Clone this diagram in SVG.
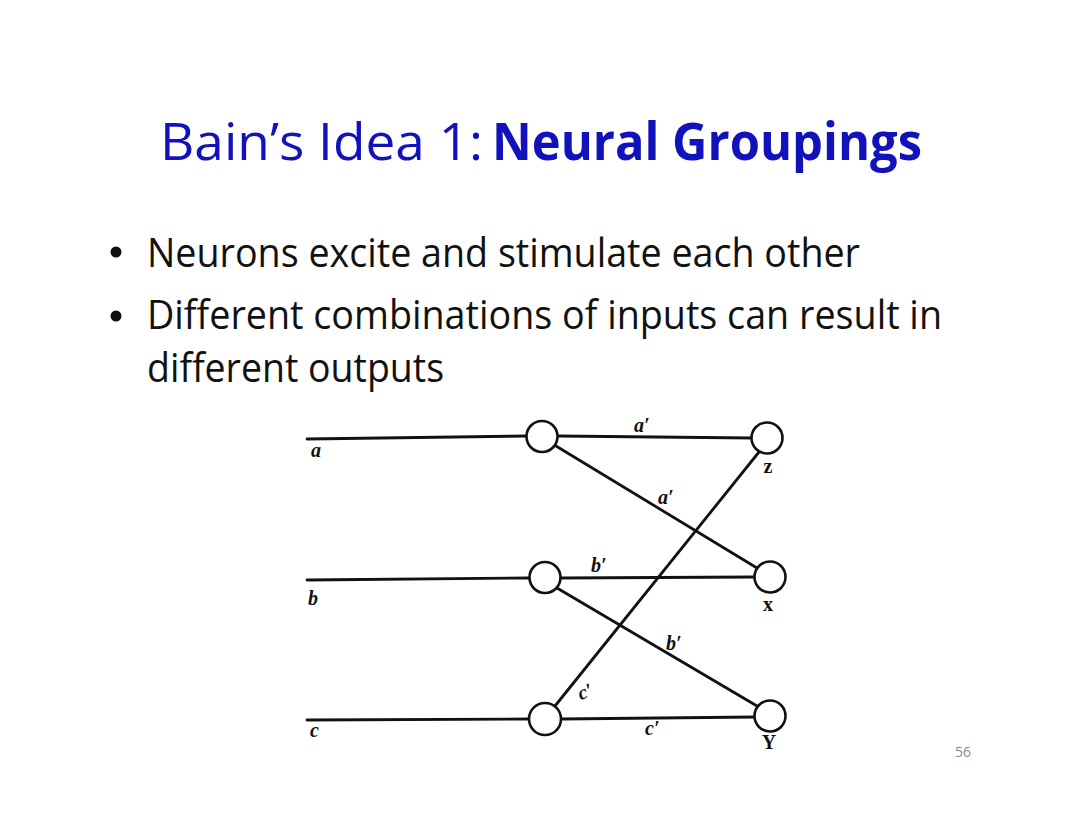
<svg xmlns="http://www.w3.org/2000/svg" width="1080" height="834" viewBox="0 0 1080 834">
<style>
.title{font-family:"Open Sans","Liberation Sans",sans-serif;fill:#1212bc;font-size:52px}
.body{font-family:"Open Sans","Liberation Sans",sans-serif;fill:#111;font-size:40px}
.lbl{font-family:"Liberation Serif","DejaVu Serif",serif;font-style:italic;font-weight:bold;fill:#111;font-size:20px}
.nlbl{font-family:"Liberation Serif","DejaVu Serif",serif;font-weight:bold;fill:#111;font-size:20px}
.wire{stroke:#111;stroke-width:2.8;fill:none;stroke-linecap:round}
.cell{fill:#fff;stroke:#111;stroke-width:2.6}
</style>
<rect width="1080" height="834" fill="#fff"/>
<g id="title">
<text class="title" x="160" y="160" textLength="323" lengthAdjust="spacingAndGlyphs">Bain’s Idea 1:</text>
<text class="title" x="492" y="160" font-weight="bold" textLength="430" lengthAdjust="spacingAndGlyphs">Neural Groupings</text>
</g>
<g id="bullets">
<circle cx="116" cy="252" r="5.5" fill="#111"/>
<circle cx="116" cy="316" r="5.5" fill="#111"/>
<text class="body" x="147" y="267" textLength="713" lengthAdjust="spacingAndGlyphs">Neurons excite and stimulate each other</text>
<text class="body" x="147" y="329" textLength="795" lengthAdjust="spacingAndGlyphs">Different combinations of inputs can result in</text>
<text class="body" x="147" y="382" textLength="297" lengthAdjust="spacingAndGlyphs">different outputs</text>
</g>
<g id="connectors">
<path class="wire" d="M307 439 L527 436"/>
<path class="wire" d="M307 580 L529 578"/>
<path class="wire" d="M307 720 L529 719"/>
<path class="wire" d="M558 436 L752 438"/>
<path class="wire" d="M556 446 L757 568"/>
<path class="wire" d="M555 706 L759 452"/>
<path class="wire" d="M561 578 L755 577"/>
<path class="wire" d="M557 588 L757 706"/>
<path class="wire" d="M561 719 L755 717"/>
<text class="lbl" x="634" y="432">a′</text>
<text class="lbl" x="658" y="504">a′</text>
<text class="lbl" x="591" y="572">b′</text>
<text class="lbl" x="666" y="650">b′</text>
<text class="lbl" x="578" y="698" transform="rotate(-20 586 692)">c′</text>
<text class="lbl" x="645" y="735">c′</text>
</g>
<g id="input-a"><text class="lbl" x="311" y="457">a</text></g>
<g id="input-b"><text class="lbl" x="308" y="605">b</text></g>
<g id="input-c"><text class="lbl" x="310" y="737">c</text></g>
<g id="node-a"><circle class="cell" cx="542" cy="436.5" r="15.5"/></g>
<g id="node-b"><circle class="cell" cx="545" cy="577.5" r="15.5"/></g>
<g id="node-c"><circle class="cell" cx="545" cy="719" r="16"/></g>
<g id="node-z"><circle class="cell" cx="767" cy="438" r="15.5"/><text class="nlbl" x="768" y="473" text-anchor="middle">z</text></g>
<g id="node-x"><circle class="cell" cx="770" cy="577" r="15.5"/><text class="nlbl" x="768" y="611" text-anchor="middle">x</text></g>
<g id="node-y"><circle class="cell" cx="770" cy="716" r="15.5"/><text class="nlbl" x="769" y="749" text-anchor="middle" font-size="18">Y</text></g>
<g id="page"><text x="963" y="757" text-anchor="middle" font-family="Open Sans,Liberation Sans,sans-serif" font-size="14" fill="#888">56</text></g>
</svg>
